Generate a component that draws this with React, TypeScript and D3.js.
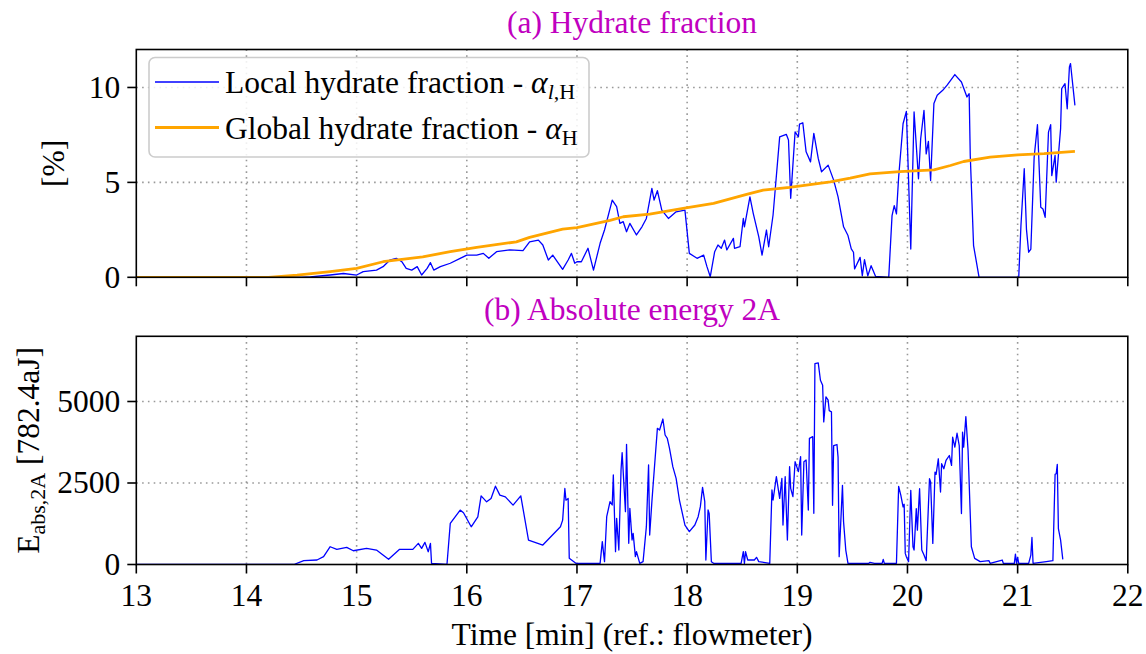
import React from "react";
import * as d3 from "d3";

const xTicks = [13, 14, 15, 16, 17, 18, 19, 20, 21, 22];
const topYTicks = [0, 5, 10];
const botYTicks = [0, 2500, 5000];

const localHydrate: [number, number][] = [
  [13, 0], [14.5, 0], [14.58, 0.02], [14.76, 0.12], [14.88, 0.2], [15.0, 0.12], [15.06, 0.3], [15.18, 0.38],
  [15.24, 0.56], [15.3, 0.9], [15.36, 1.0], [15.41, 0.82], [15.45, 0.47], [15.5, 0.38], [15.55, 0.56],
  [15.59, 0.12], [15.64, 0.47], [15.67, 0.77], [15.7, 0.38], [15.76, 0.56], [15.85, 0.74], [15.94, 1.0],
  [16.0, 1.17], [16.09, 1.17], [16.15, 1.26], [16.2, 1.0], [16.27, 1.35], [16.39, 1.44], [16.51, 1.4],
  [16.57, 1.87], [16.65, 1.96], [16.69, 1.7], [16.74, 0.91], [16.78, 1.17], [16.87, 0.42], [16.92, 0.91],
  [16.95, 1.26], [16.98, 0.74], [17.0, 0.82], [17.04, 0.82], [17.1, 1.53], [17.15, 0.38], [17.21, 1.79],
  [17.25, 2.49], [17.32, 4.07], [17.36, 3.72], [17.39, 2.84], [17.42, 2.93], [17.45, 2.4], [17.48, 2.84],
  [17.54, 2.23], [17.59, 2.66], [17.63, 3.1], [17.68, 4.68], [17.7, 4.07], [17.73, 4.56], [17.77, 3.54],
  [17.83, 3.1], [17.9, 3.45], [17.98, 3.54], [18.02, 1.26], [18.09, 1.0], [18.15, 1.17], [18.18, 0.56],
  [18.21, 0.03], [18.25, 1.35], [18.28, 1.7], [18.31, 1.53], [18.34, 1.96], [18.36, 1.44], [18.42, 2.05],
  [18.43, 1.53], [18.48, 1.61], [18.51, 3.1], [18.52, 2.66], [18.57, 4.24], [18.6, 3.37], [18.65, 2.14],
  [18.68, 1.17], [18.72, 2.49], [18.74, 1.61], [18.78, 3.28], [18.84, 7.4], [18.9, 7.53], [18.92, 7.23],
  [18.94, 4.16], [18.98, 7.66], [19.01, 7.4], [19.02, 8.07], [19.05, 8.14], [19.08, 6.61], [19.12, 6.08],
  [19.15, 7.58], [19.19, 6.26], [19.22, 5.56], [19.28, 5.91], [19.33, 5.12], [19.37, 4.24], [19.42, 2.66],
  [19.46, 2.2], [19.49, 1.5], [19.51, 1.32], [19.52, 0.44], [19.57, 1.05], [19.59, 0.08], [19.61, 0.93],
  [19.64, 0.08], [19.67, 0.61], [19.71, 0.05], [19.83, 0], [19.86, 3.25], [19.88, 3.78], [19.9, 3.34],
  [19.92, 5.28], [19.96, 8.09], [19.99, 8.74], [20.03, 1.49], [20.06, 8.71], [20.1, 5.19], [20.12, 7.3],
  [20.15, 8.79], [20.17, 6.5], [20.19, 7.16], [20.21, 5.1], [20.24, 9.15], [20.27, 9.59], [20.32, 9.85],
  [20.36, 10.12], [20.43, 10.68], [20.49, 10.29], [20.54, 9.5], [20.56, 9.67], [20.57, 6.42], [20.6, 1.67],
  [20.65, 0], [21.01, 0], [21.03, 2.72], [21.06, 5.72], [21.08, 2.54], [21.1, 1.32], [21.12, 1.49],
  [21.15, 6.33], [21.18, 8.04], [21.21, 3.69], [21.23, 3.6], [21.25, 3.16], [21.28, 7.65], [21.3, 8.04],
  [21.31, 5.36], [21.34, 6.42], [21.35, 5.01], [21.39, 7.83], [21.4, 9.94], [21.43, 10.2], [21.45, 8.88],
  [21.47, 11.08], [21.48, 11.26], [21.52, 9.06],
];

const globalHydrate: [number, number][] = [
  [13, 0], [14.2, 0], [14.46, 0.12], [14.76, 0.3], [15.0, 0.47], [15.24, 0.82], [15.6, 1.08], [15.85, 1.35],
  [16.09, 1.58], [16.45, 1.87], [16.57, 2.1], [16.87, 2.54], [17.0, 2.62], [17.3, 3.0], [17.42, 3.19],
  [17.66, 3.33], [17.99, 3.66], [18.24, 3.89], [18.54, 4.37], [18.69, 4.59], [18.93, 4.74], [19.3, 5.03],
  [19.48, 5.22], [19.66, 5.45], [19.93, 5.57], [20.24, 5.66], [20.39, 5.89], [20.51, 6.1], [20.75, 6.33],
  [21.0, 6.45], [21.24, 6.51], [21.52, 6.63],
];

const energy2A: [number, number][] = [
  [13, 0], [14.43, 0], [14.52, 117], [14.64, 138], [14.7, 240], [14.76, 545], [14.82, 465], [14.91, 526],
  [14.97, 422], [15.09, 495], [15.18, 444], [15.29, 159], [15.39, 465], [15.51, 465], [15.56, 649],
  [15.59, 495], [15.62, 679], [15.65, 392], [15.67, 649], [15.68, 37], [15.82, 0], [15.85, 1260],
  [15.94, 1668], [15.97, 1586], [16.04, 1157], [16.1, 1463], [16.13, 2106], [16.18, 1922], [16.22, 2025],
  [16.26, 2402], [16.3, 2127], [16.35, 2075], [16.42, 1821], [16.49, 2106], [16.56, 750], [16.69, 597],
  [16.85, 1157], [16.87, 1362], [16.89, 2331], [16.9, 1974], [16.92, 2025], [16.93, 190], [16.99, 37],
  [17.21, 36], [17.23, 700], [17.25, 87], [17.27, 1467], [17.3, 1927], [17.32, 1825], [17.33, 2745],
  [17.35, 394], [17.36, 1416], [17.38, 445], [17.4, 2899], [17.41, 3430], [17.44, 1620], [17.45, 3686],
  [17.47, 649], [17.48, 1723], [17.5, 751], [17.51, 956], [17.53, 240], [17.54, 394], [17.57, 36],
  [17.6, 87], [17.63, 1160], [17.65, 3052], [17.66, 905], [17.68, 1927], [17.69, 2387], [17.73, 4177],
  [17.75, 4126], [17.78, 4463], [17.8, 3972], [17.82, 3870], [17.84, 3564], [17.87, 3001], [17.9, 2643],
  [17.93, 1978], [17.98, 1211], [18.02, 1007], [18.07, 1211], [18.1, 1467], [18.12, 1774], [18.14, 2367],
  [18.16, 1927], [18.17, 138], [18.19, 1672], [18.2, 1569], [18.22, 87], [18.24, 36], [18.49, 36],
  [18.51, 394], [18.52, 36], [18.53, 394], [18.55, 138], [18.61, 138], [18.63, 220], [18.65, 87],
  [18.75, 36], [18.77, 2285], [18.78, 1978], [18.81, 2694], [18.84, 2030], [18.86, 2643], [18.87, 1211],
  [18.89, 2694], [18.91, 751], [18.93, 3001], [18.94, 2336], [18.96, 2080], [18.98, 3154], [19.01, 2848],
  [19.03, 3308], [19.04, 905], [19.06, 3154], [19.08, 3205], [19.1, 1672], [19.11, 3870], [19.14, 3921],
  [19.15, 1569], [19.16, 6165], [19.19, 6183], [19.21, 5653], [19.23, 5500], [19.24, 4375], [19.26, 5141],
  [19.28, 5040], [19.29, 4718], [19.31, 4682], [19.32, 1817], [19.33, 3650], [19.36, 3680], [19.37, 3293],
  [19.38, 239], [19.41, 2428], [19.42, 1308], [19.44, 443], [19.46, 36], [19.65, 36], [19.66, 66],
  [19.7, 36], [19.77, 36], [19.78, 158], [19.79, 36], [19.9, 36], [19.92, 2397], [19.94, 2122],
  [19.96, 1766], [19.97, 1848], [19.98, 341], [19.99, 239], [20.01, 87], [20.03, 2275], [20.05, 545],
  [20.06, 443], [20.08, 1715], [20.09, 1054], [20.11, 2326], [20.13, 443], [20.15, 290], [20.17, 117],
  [20.2, 2632], [20.21, 2530], [20.23, 646], [20.25, 2835], [20.26, 2764], [20.28, 3243], [20.3, 2224],
  [20.31, 3090], [20.33, 2937], [20.35, 3192], [20.38, 3344], [20.4, 3039], [20.41, 3904], [20.43, 3599],
  [20.45, 4026], [20.47, 3650], [20.49, 1563], [20.5, 4057], [20.51, 3599], [20.53, 4535], [20.55, 3497],
  [20.58, 545], [20.61, 188], [20.66, 87], [20.74, 117], [20.75, 36], [20.86, 137], [20.87, 36],
  [20.97, 36], [20.98, 321], [20.99, 36], [21.0, 219], [21.01, 36], [21.1, 36], [21.12, 290],
  [21.13, 830], [21.14, 36], [21.26, 87], [21.32, 117], [21.34, 2764], [21.35, 2784], [21.36, 3069],
  [21.37, 1104], [21.39, 748], [21.41, 158],
];

const FS = 31.5;

const left = 136.3;
const right = 1127.8;
const topA = 49.5;
const botA = 277.3;
const topB = 336.3;
const botB = 564.5;

export default function App() {
  const x = d3.scaleLinear().domain([13, 22]).range([left, right]);
  const yA = d3.scaleLinear().domain([0, 12]).range([botA, topA]);
  const yB = d3.scaleLinear().domain([0, 7000]).range([botB, topB]);

  const lineA = d3.line<[number, number]>().x((d) => x(d[0])).y((d) => yA(d[1]));
  const lineB = d3.line<[number, number]>().x((d) => x(d[0])).y((d) => yB(d[1]));

  const tStyle = { fontFamily: '"Liberation Serif"' };

  const grid = (yScale: d3.ScaleLinear<number, number>, yTicks: number[], top: number, bot: number) => (
    <g stroke="#999" strokeWidth={1.6} strokeDasharray="1.6,4.2">
      {xTicks.slice(1, -1).map((t) => (
        <line key={"gx" + t} x1={x(t)} x2={x(t)} y1={top} y2={bot} />
      ))}
      {yTicks.slice(1).map((t) => (
        <line key={"gy" + t} x1={left} x2={right} y1={yScale(t)} y2={yScale(t)} />
      ))}
    </g>
  );

  const frame = (
    yScale: d3.ScaleLinear<number, number>,
    yTicks: number[],
    top: number,
    bot: number,
    showX: boolean,
    fmt: (v: number) => string
  ) => (
    <g>
      <rect x={left} y={top} width={right - left} height={bot - top} fill="none" stroke="#000" strokeWidth={1.6} />
      {xTicks.map((t) => (
        <g key={"tx" + t}>
          <line x1={x(t)} x2={x(t)} y1={bot} y2={bot + 9} stroke="#000" strokeWidth={1.6} />
          {showX && (
            <text x={x(t)} y={bot + 41.5} textAnchor="middle" fontSize={FS} style={tStyle} fill="#000">
              {t}
            </text>
          )}
        </g>
      ))}
      {yTicks.map((t) => (
        <g key={"ty" + t}>
          <line x1={left - 9} x2={left} y1={yScale(t)} y2={yScale(t)} stroke="#000" strokeWidth={1.6} />
          <text x={left - 16} y={yScale(t)} dy="0.33em" textAnchor="end" fontSize={FS} style={tStyle} fill="#000">
            {fmt(t)}
          </text>
        </g>
      ))}
    </g>
  );

  const midX = (left + right) / 2;

  return (
    <svg width={1146} height={654} style={{ position: "absolute", left: 0, top: 0, background: "#fff" }}>
      <style>{`text, tspan { font-family: "Liberation Serif" !important; }`}</style>
      <rect width={1146} height={654} fill="#fff" />
      <defs>
        <clipPath id="clipA">
          <rect x={left} y={topA} width={right - left} height={botA - topA} />
        </clipPath>
        <clipPath id="clipB">
          <rect x={left} y={topB} width={right - left} height={botB - topB} />
        </clipPath>
      </defs>

      {/* Panel A */}
      <text x={midX} y={33} textAnchor="middle" fontSize={FS} style={tStyle} fill="#c000c0">
        (a) Hydrate fraction
      </text>
      {grid(yA, topYTicks, topA, botA)}
      <g clipPath="url(#clipA)">
        <path d={lineA(localHydrate) || ""} fill="none" stroke="#0000ff" strokeWidth={1.3} strokeLinejoin="round" />
        <path d={lineA(globalHydrate) || ""} fill="none" stroke="#ffa500" strokeWidth={2.8} strokeLinejoin="round" />
      </g>
      {frame(yA, topYTicks, topA, botA, false, (v) => String(v))}
      <text
        transform={`translate(64,${(topA + botA) / 2}) rotate(-90)`}
        textAnchor="middle"
        fontSize={FS}
        style={tStyle}
        fill="#000"
      >
        [%]
      </text>

      {/* Legend */}
      <g>
        <rect x={149} y={57.5} width={440} height={99.5} rx={6} fill="#fff" fillOpacity={0.85} stroke="#cccccc" strokeWidth={1.6} />
        <line x1={155} x2={219} y1={82} y2={82} stroke="#0000ff" strokeWidth={1.3} />
        <line x1={155} x2={219} y1={127.5} y2={127.5} stroke="#ffa500" strokeWidth={2.8} />
        <text x={225} y={93} fontSize={FS} style={tStyle} fill="#000">
          Local hydrate fraction -{" "}
          <tspan fontStyle="italic">α</tspan>
          <tspan dy={6} fontSize={22}>
            <tspan fontStyle="italic">l</tspan>,H
          </tspan>
        </text>
        <text x={225} y={138.5} fontSize={FS} style={tStyle} fill="#000">
          Global hydrate fraction -{" "}
          <tspan fontStyle="italic">α</tspan>
          <tspan dy={6} fontSize={22}>
            H
          </tspan>
        </text>
      </g>

      {/* Panel B */}
      <text x={midX} y={319.5} textAnchor="middle" fontSize={FS} style={tStyle} fill="#c000c0">
        (b) Absolute energy 2A
      </text>
      {grid(yB, botYTicks, topB, botB)}
      <g clipPath="url(#clipB)">
        <path d={lineB(energy2A) || ""} fill="none" stroke="#0000ff" strokeWidth={1.3} strokeLinejoin="round" />
      </g>
      {frame(yB, botYTicks, topB, botB, true, (v) => String(v))}
      <text
        transform={`translate(39,${(topB + botB) / 2}) rotate(-90)`}
        textAnchor="middle"
        fontSize={FS}
        style={tStyle}
        fill="#000"
      >
        E
        <tspan dy={6} fontSize={22}>
          abs,2A
        </tspan>
        <tspan dy={-6}> [782.4aJ]</tspan>
      </text>
      <text x={midX} y={645} textAnchor="middle" fontSize={FS} style={tStyle} fill="#000">
        Time [min] (ref.: flowmeter)
      </text>
    </svg>
  );
}
